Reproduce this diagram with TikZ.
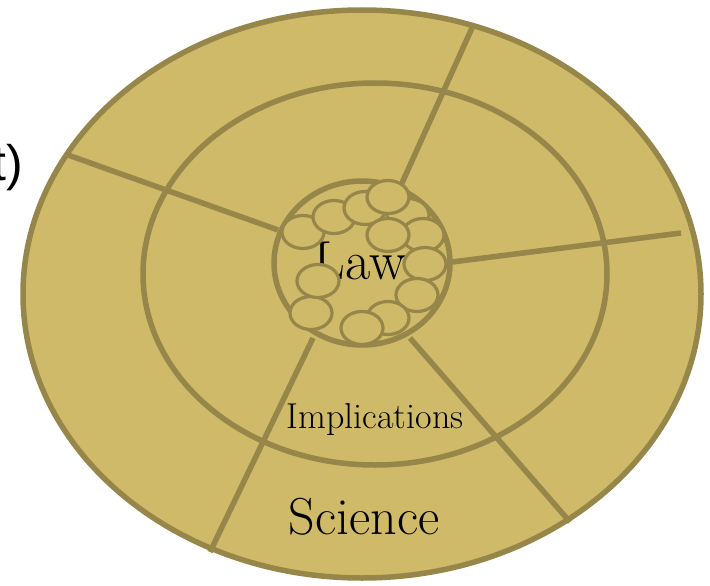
\documentclass[tikz,border=0pt]{standalone}
\usepackage{fontspec}
\newfontfamily\cutfont{Liberation Sans}
\definecolor{LawGold}{RGB}{206,186,104}
\definecolor{LawOlive}{RGB}{150,134,74}

\begin{document}
\begin{tikzpicture}[
x=1pt, y=-1pt,
every node/.style={inner sep=0pt, outer sep=0pt},
ring/.style={draw=LawOlive, line width=5.5pt, fill=LawGold},
spoke/.style={draw=LawOlive, line width=5.5pt},
grain/.style={draw=LawOlive, line width=3.2pt, fill=LawGold},
bigword/.style={font=\fontsize{#1}{#1}\selectfont, anchor=base}
]
\useasboundingbox (0,0) rectangle (710,586);
% rings
\path[ring] (362,294) ellipse [x radius=339, y radius=284];
\path[ring] (375,274) ellipse [x radius=232, y radius=191];
% spokes
\draw[spoke] (68,155) -- (278,230);
\draw[spoke] (472,28) -- (402,183);
\draw[spoke] (452,262) -- (681,233);
\draw[spoke] (410,338) -- (570,522);
\draw[spoke] (313,338) -- (210,552);
\path[ring] (362,263) ellipse [x radius=88, y radius=82];
\node[bigword=55] (law) at (360,279) {Law};
% grains round the core
\foreach \gx/\gy in {303/232, 334/217, 365/208, 408/215, 388/197, 423/235, 388/235,
  425/264, 417/295, 388/318, 362/328, 311/313, 318/281}
  \path[grain] (\gx,\gy) ellipse [x radius=21, y radius=16.5];
\node[bigword=36] (impl) at (375,428) {Implications};
\node[bigword=52] (sci) at (364,534) {Science};
\node[font=\cutfont\fontsize{50}{50}\selectfont, anchor=base east] (cut) at (23,180) {t)};
\end{tikzpicture}
\end{document}
